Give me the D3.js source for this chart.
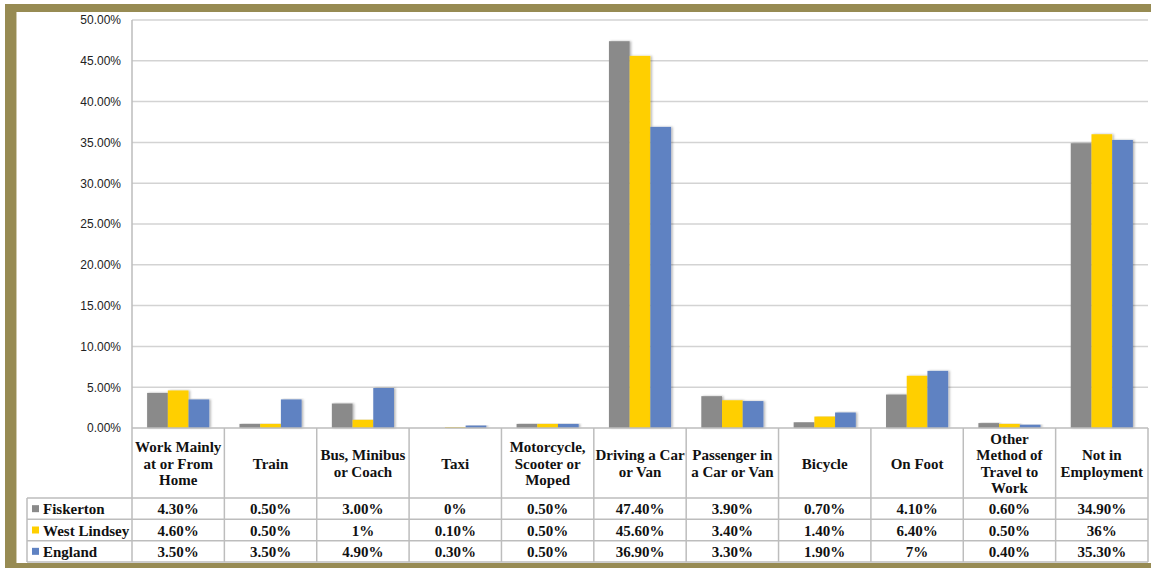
<!DOCTYPE html>
<html><head><meta charset="utf-8">
<script src="https://cdn.jsdelivr.net/npm/d3@7"></script>
<style>body{margin:0;background:#fff}svg{display:block}</style>
</head><body>
<svg id="c" width="1151" height="568"></svg>
<script>
const categories = [
  "Work Mainly\nat or From\nHome", "Train", "Bus, Minibus\nor Coach", "Taxi",
  "Motorcycle,\nScooter or\nMoped", "Driving a Car\nor Van", "Passenger in\na Car or Van",
  "Bicycle", "On Foot", "Other\nMethod of\nTravel to\nWork", "Not in\nEmployment"
];
const seriesNames = ["Fiskerton", "West Lindsey", "England"];
const fiskerton   = [4.3, 0.5, 3.0, 0, 0.5, 47.4, 3.9, 0.7, 4.1, 0.6, 34.9];
const westLindsey = [4.6, 0.5, 1.0, 0.1, 0.5, 45.6, 3.4, 1.4, 6.4, 0.5, 36.0];
const england     = [3.5, 3.5, 4.9, 0.3, 0.5, 36.9, 3.3, 1.9, 7.0, 0.4, 35.3];
const fiskertonLabels   = ["4.30%","0.50%","3.00%","0%","0.50%","47.40%","3.90%","0.70%","4.10%","0.60%","34.90%"];
const westLindseyLabels = ["4.60%","0.50%","1%","0.10%","0.50%","45.60%","3.40%","1.40%","6.40%","0.50%","36%"];
const englandLabels     = ["3.50%","3.50%","4.90%","0.30%","0.50%","36.90%","3.30%","1.90%","7%","0.40%","35.30%"];
const yTicks = [0, 5, 10, 15, 20, 25, 30, 35, 40, 45, 50];
const colors = ["#8a8a8a", "#ffcf00", "#5f82c2"];

(function () {
const values = [fiskerton, westLindsey, england];
const labels = [fiskertonLabels, westLindseyLabels, englandLabels];

const svg = d3.select("#c");
const olive = "#978b53";
const lineCol = "#bdbdbd";
const serif = "'Liberation Serif', 'Times New Roman', serif";

// frame
svg.append("rect").attr("x", 5).attr("y", 4).attr("width", 1146).attr("height", 8).attr("fill", olive);
svg.append("rect").attr("x", 5).attr("y", 4).attr("width", 11).attr("height", 564).attr("fill", olive);
svg.append("rect").attr("x", 5).attr("y", 563).attr("width", 1146).attr("height", 5).attr("fill", olive);
svg.append("line").attr("x1", 16.5).attr("x2", 16.5).attr("y1", 12).attr("y2", 563).attr("stroke", "#cfc9ad").attr("stroke-width", 1);

const pL = 132, pR = 1148, pT = 20, pB = 428;
const x0 = d3.scaleBand().domain(categories).range([pL, pR]).paddingInner(0).paddingOuter(0);
const x1 = d3.scaleBand().domain(seriesNames).range([0, x0.bandwidth()]).paddingInner(0).paddingOuter(0.73);
const y = d3.scaleLinear().domain([0, 50]).range([pB, pT]);

const defs = svg.append("defs");
const f = defs.append("filter").attr("id", "sh").attr("x", "-20%").attr("y", "-5%").attr("width", "150%").attr("height", "110%");
f.append("feDropShadow").attr("dx", 1.5).attr("dy", 0).attr("stdDeviation", 0.8).attr("flood-color", "#000").attr("flood-opacity", 0.3);

// gridlines
svg.append("g").selectAll("line").data(yTicks.filter(d => d > 0)).join("line")
  .attr("x1", pL).attr("x2", pR).attr("y1", d => y(d)).attr("y2", d => y(d))
  .attr("stroke", "#d3d3d3").attr("stroke-width", 1.5);

// y axis
const yAxis = d3.axisLeft(y).tickValues(yTicks).tickSize(0).tickPadding(11).tickFormat(d => d.toFixed(2) + "%");
const ya = svg.append("g").attr("transform", `translate(${pL},0)`).call(yAxis);
ya.select(".domain").remove();
ya.selectAll("text").attr("font-family", "'Liberation Sans', Arial, sans-serif").attr("font-size", 12).attr("fill", "#222");

// bars
const groups = svg.append("g").selectAll("g").data(categories).join("g")
  .attr("transform", d => `translate(${x0(d)},0)`);
groups.selectAll("rect").data((c, i) => seriesNames.map((s, j) => ({ s, j, v: values[j][i] }))).join("rect")
  .attr("x", d => x1(d.s)).attr("width", x1.bandwidth())
  .attr("y", d => y(d.v)).attr("height", d => pB - y(d.v))
  .attr("fill", d => colors[d.j]).attr("filter", d => d.v > 0 ? "url(#sh)" : null);

// table
const rowTop = 498, rowH = (562 - 498) / 3, legLeft = 27;
const t = svg.append("g").attr("stroke", lineCol).attr("stroke-width", 1.5);
t.append("line").attr("x1", pL).attr("x2", pL).attr("y1", pT).attr("y2", 562);
t.append("line").attr("x1", pL).attr("x2", pR).attr("y1", pB).attr("y2", pB);
[0, 1, 2, 3].forEach(k => {
  t.append("line").attr("x1", legLeft).attr("x2", pR).attr("y1", rowTop + k * rowH).attr("y2", rowTop + k * rowH);
});
t.append("line").attr("x1", legLeft).attr("x2", legLeft).attr("y1", rowTop).attr("y2", 562);
categories.forEach(c => {
  const xr = x0(c) + x0.bandwidth();
  t.append("line").attr("x1", xr).attr("x2", xr).attr("y1", pB).attr("y2", 562);
});

// header text
const hdr = svg.append("g").attr("font-family", serif).attr("font-weight", "bold").attr("font-size", 15).attr("fill", "#111").attr("text-anchor", "middle");
const lh = 16.3, centerBase = 468.5;
categories.forEach(c => {
  const lines = c.split("\n");
  const tx = hdr.append("text").attr("x", x0(c) + x0.bandwidth() / 2);
  lines.forEach((ln, k) => {
    tx.append("tspan").attr("x", x0(c) + x0.bandwidth() / 2)
      .attr("y", centerBase + (k - (lines.length - 1) / 2) * lh).text(ln);
  });
});

// rows
seriesNames.forEach((s, j) => {
  const cy = rowTop + j * rowH + rowH / 2;
  svg.append("rect").attr("x", 32).attr("y", cy - 3.5).attr("width", 7).attr("height", 7).attr("fill", colors[j]);
  svg.append("text").attr("x", 43).attr("y", cy + 5.5).attr("font-family", serif).attr("font-weight", "bold")
    .attr("font-size", 15).attr("fill", "#111").text(s);
  categories.forEach((c, i) => {
    svg.append("text").attr("x", x0(c) + x0.bandwidth() / 2).attr("y", cy + 5.5)
      .attr("text-anchor", "middle").attr("font-family", serif).attr("font-weight", "bold")
      .attr("font-size", 15).attr("fill", "#111").text(labels[j][i]);
  });
});
})();
</script>
</body></html>
